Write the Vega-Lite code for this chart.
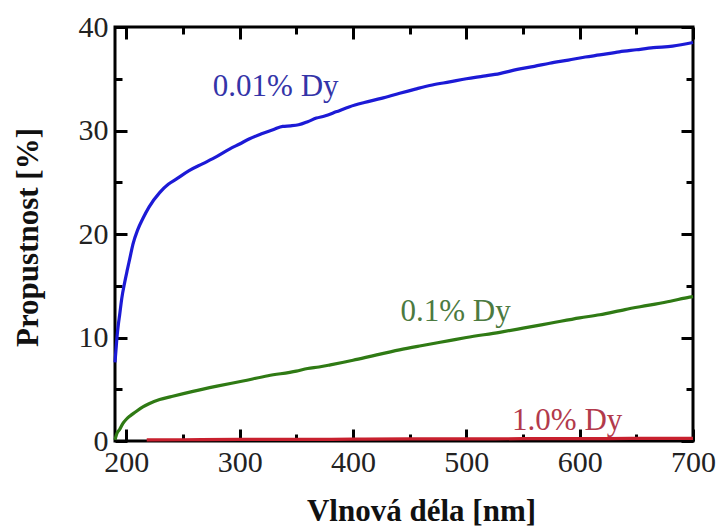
{
  "$schema": "https://vega.github.io/schema/vega-lite/v6.json",
  "autosize": {"type": "none"},
  "padding": {"left": 115, "top": 27, "right": 29, "bottom": 88},
  "width": 578,
  "height": 414,
  "background": "white",
  "config": {
    "view": {"stroke": "black", "strokeWidth": 3},
    "axis": {
      "domain": false,
      "ticks": true,
      "tickColor": "black",
      "tickWidth": 3,
      "grid": false,
      "labelFlush": false,
      "labelOverlap": false,
      "labelFont": "Liberation Serif",
      "labelFontSize": 30,
      "labelColor": "#222",
      "titleFont": "Liberation Serif",
      "titleFontSize": 31,
      "titleFontWeight": "bold",
      "titleColor": "#111"
    }
  },
  "datasets": {
    "curves": [
      {"wl": 190, "T": 7.6, "series": "0.01% Dy"},
      {"wl": 191, "T": 9.0, "series": "0.01% Dy"},
      {"wl": 192, "T": 10.3, "series": "0.01% Dy"},
      {"wl": 193, "T": 11.3, "series": "0.01% Dy"},
      {"wl": 194, "T": 12.1, "series": "0.01% Dy"},
      {"wl": 196, "T": 13.8, "series": "0.01% Dy"},
      {"wl": 198.5, "T": 15.3, "series": "0.01% Dy"},
      {"wl": 201, "T": 16.6, "series": "0.01% Dy"},
      {"wl": 203, "T": 17.6, "series": "0.01% Dy"},
      {"wl": 205.8, "T": 19.0, "series": "0.01% Dy"},
      {"wl": 210, "T": 20.4, "series": "0.01% Dy"},
      {"wl": 214.6, "T": 21.5, "series": "0.01% Dy"},
      {"wl": 220, "T": 22.6, "series": "0.01% Dy"},
      {"wl": 229.4, "T": 24.0, "series": "0.01% Dy"},
      {"wl": 237, "T": 24.8, "series": "0.01% Dy"},
      {"wl": 244, "T": 25.3, "series": "0.01% Dy"},
      {"wl": 255, "T": 26.1, "series": "0.01% Dy"},
      {"wl": 267.6, "T": 26.8, "series": "0.01% Dy"},
      {"wl": 280, "T": 27.5, "series": "0.01% Dy"},
      {"wl": 291, "T": 28.2, "series": "0.01% Dy"},
      {"wl": 300, "T": 28.7, "series": "0.01% Dy"},
      {"wl": 308.8, "T": 29.2, "series": "0.01% Dy"},
      {"wl": 320, "T": 29.7, "series": "0.01% Dy"},
      {"wl": 330, "T": 30.1, "series": "0.01% Dy"},
      {"wl": 338, "T": 30.4, "series": "0.01% Dy"},
      {"wl": 345, "T": 30.45, "series": "0.01% Dy"},
      {"wl": 352, "T": 30.55, "series": "0.01% Dy"},
      {"wl": 360, "T": 30.85, "series": "0.01% Dy"},
      {"wl": 367.7, "T": 31.2, "series": "0.01% Dy"},
      {"wl": 375, "T": 31.4, "series": "0.01% Dy"},
      {"wl": 385, "T": 31.8, "series": "0.01% Dy"},
      {"wl": 397.1, "T": 32.3, "series": "0.01% Dy"},
      {"wl": 410, "T": 32.7, "series": "0.01% Dy"},
      {"wl": 425, "T": 33.1, "series": "0.01% Dy"},
      {"wl": 441.2, "T": 33.6, "series": "0.01% Dy"},
      {"wl": 455, "T": 34.0, "series": "0.01% Dy"},
      {"wl": 470, "T": 34.4, "series": "0.01% Dy"},
      {"wl": 485.3, "T": 34.7, "series": "0.01% Dy"},
      {"wl": 500, "T": 35.0, "series": "0.01% Dy"},
      {"wl": 515, "T": 35.25, "series": "0.01% Dy"},
      {"wl": 529.4, "T": 35.5, "series": "0.01% Dy"},
      {"wl": 545, "T": 35.9, "series": "0.01% Dy"},
      {"wl": 560, "T": 36.2, "series": "0.01% Dy"},
      {"wl": 573.5, "T": 36.5, "series": "0.01% Dy"},
      {"wl": 590, "T": 36.8, "series": "0.01% Dy"},
      {"wl": 605, "T": 37.1, "series": "0.01% Dy"},
      {"wl": 617.7, "T": 37.3, "series": "0.01% Dy"},
      {"wl": 635, "T": 37.6, "series": "0.01% Dy"},
      {"wl": 650, "T": 37.8, "series": "0.01% Dy"},
      {"wl": 665, "T": 38.0, "series": "0.01% Dy"},
      {"wl": 682, "T": 38.15, "series": "0.01% Dy"},
      {"wl": 700, "T": 38.5, "series": "0.01% Dy"},

      {"wl": 190, "T": 0.1, "series": "0.1% Dy"},
      {"wl": 191, "T": 0.5, "series": "0.1% Dy"},
      {"wl": 192, "T": 0.8, "series": "0.1% Dy"},
      {"wl": 194, "T": 1.1, "series": "0.1% Dy"},
      {"wl": 197, "T": 1.7, "series": "0.1% Dy"},
      {"wl": 200, "T": 2.1, "series": "0.1% Dy"},
      {"wl": 203, "T": 2.4, "series": "0.1% Dy"},
      {"wl": 208, "T": 2.8, "series": "0.1% Dy"},
      {"wl": 214.6, "T": 3.3, "series": "0.1% Dy"},
      {"wl": 220, "T": 3.6, "series": "0.1% Dy"},
      {"wl": 229.4, "T": 4.0, "series": "0.1% Dy"},
      {"wl": 240, "T": 4.3, "series": "0.1% Dy"},
      {"wl": 258.8, "T": 4.8, "series": "0.1% Dy"},
      {"wl": 280, "T": 5.3, "series": "0.1% Dy"},
      {"wl": 302.9, "T": 5.8, "series": "0.1% Dy"},
      {"wl": 325, "T": 6.3, "series": "0.1% Dy"},
      {"wl": 350, "T": 6.75, "series": "0.1% Dy"},
      {"wl": 360, "T": 7.0, "series": "0.1% Dy"},
      {"wl": 370, "T": 7.15, "series": "0.1% Dy"},
      {"wl": 380, "T": 7.35, "series": "0.1% Dy"},
      {"wl": 400, "T": 7.8, "series": "0.1% Dy"},
      {"wl": 420, "T": 8.3, "series": "0.1% Dy"},
      {"wl": 441, "T": 8.8, "series": "0.1% Dy"},
      {"wl": 460, "T": 9.2, "series": "0.1% Dy"},
      {"wl": 485, "T": 9.7, "series": "0.1% Dy"},
      {"wl": 500, "T": 10.0, "series": "0.1% Dy"},
      {"wl": 529.4, "T": 10.5, "series": "0.1% Dy"},
      {"wl": 550, "T": 10.9, "series": "0.1% Dy"},
      {"wl": 575, "T": 11.4, "series": "0.1% Dy"},
      {"wl": 600, "T": 11.9, "series": "0.1% Dy"},
      {"wl": 617.7, "T": 12.2, "series": "0.1% Dy"},
      {"wl": 640, "T": 12.7, "series": "0.1% Dy"},
      {"wl": 660, "T": 13.1, "series": "0.1% Dy"},
      {"wl": 680, "T": 13.5, "series": "0.1% Dy"},
      {"wl": 697, "T": 13.9, "series": "0.1% Dy"},
      {"wl": 700, "T": 13.95, "series": "0.1% Dy"},

      {"wl": 218, "T": 0.1, "series": "1.0% Dy"},
      {"wl": 250, "T": 0.12, "series": "1.0% Dy"},
      {"wl": 300, "T": 0.15, "series": "1.0% Dy"},
      {"wl": 350, "T": 0.15, "series": "1.0% Dy"},
      {"wl": 400, "T": 0.18, "series": "1.0% Dy"},
      {"wl": 450, "T": 0.2, "series": "1.0% Dy"},
      {"wl": 500, "T": 0.2, "series": "1.0% Dy"},
      {"wl": 550, "T": 0.22, "series": "1.0% Dy"},
      {"wl": 600, "T": 0.22, "series": "1.0% Dy"},
      {"wl": 650, "T": 0.25, "series": "1.0% Dy"},
      {"wl": 700, "T": 0.25, "series": "1.0% Dy"}
    ]
  },
  "resolve": {"axis": {"x": "independent", "y": "independent"}},
  "layer": [
    {
      "data": {"name": "curves"},
      "mark": {"type": "line", "opacity": 0},
      "encoding": {
        "detail": {"field": "series"},
        "x": {"field": "wl", "type": "quantitative",
          "scale": {"domain": [190, 700], "nice": false, "zero": false},
          "axis": {"orient": "top", "title": null, "labels": false, "values": [200, 300, 400, 500, 600, 700], "tickSize": 12, "offset": -12}},
        "y": {"field": "T", "type": "quantitative",
          "scale": {"domain": [0, 40], "nice": false},
          "axis": {"orient": "right", "title": null, "labels": false, "values": [0, 10, 20, 30, 40], "tickSize": 12, "offset": -12}}
      }
    },
    {
      "data": {"name": "curves"},
      "mark": {"type": "line", "opacity": 0},
      "encoding": {
        "detail": {"field": "series"},
        "x": {"field": "wl", "type": "quantitative",
          "axis": {"orient": "bottom", "title": null, "labels": false, "values": [250, 350, 450, 550, 650], "tickSize": 7, "offset": -7}},
        "y": {"field": "T", "type": "quantitative",
          "axis": {"orient": "left", "title": null, "labels": false, "values": [5, 15, 25, 35], "tickSize": 7, "offset": -7}}
      }
    },
    {
      "data": {"name": "curves"},
      "mark": {"type": "line", "opacity": 0},
      "encoding": {
        "detail": {"field": "series"},
        "x": {"field": "wl", "type": "quantitative",
          "axis": {"orient": "top", "title": null, "labels": false, "values": [250, 350, 450, 550, 650], "tickSize": 7, "offset": -7}},
        "y": {"field": "T", "type": "quantitative",
          "axis": {"orient": "right", "title": null, "labels": false, "values": [5, 15, 25, 35], "tickSize": 7, "offset": -7}}
      }
    },
    {
      "data": {"name": "curves"},
      "mark": {"type": "line", "strokeWidth": 3.2, "interpolate": "monotone"},
      "encoding": {
        "x": {
          "field": "wl", "type": "quantitative",
          "axis": {
            "orient": "bottom",
            "title": "Vlnová déla [nm]",
            "values": [200, 300, 400, 500, 600, 700],
            "tickSize": 12,
            "offset": -12,
            "labelPadding": 6,
            "titleX": 306,
            "titleY": 91,
            "titleAnchor": null,
            "titleAlign": "center",
            "titleBaseline": "alphabetic"
          }
        },
        "y": {
          "field": "T", "type": "quantitative",
          "axis": {
            "orient": "left",
            "title": "Propustnost [%]",
            "values": [0, 10, 20, 30, 40],
            "tickSize": 12,
            "offset": -12,
            "labelPadding": 7,
            "titleX": -90,
            "titleY": 210,
            "titleAngle": -90,
            "titleAlign": "center",
            "titleBaseline": "alphabetic"
          }
        },
        "color": {
          "field": "series", "type": "nominal",
          "scale": {"domain": ["0.01% Dy", "0.1% Dy", "1.0% Dy"], "range": ["#1c1ad6", "#2f7a14", "#c8202e"]},
          "legend": null
        },
        "order": {"field": "wl", "type": "quantitative"}
      }
    },
    {
      "data": {"values": [{"label": "0.01% Dy"}]},
      "mark": {"type": "text", "font": "Liberation Serif", "fontSize": 31, "color": "#3434a8", "align": "center", "baseline": "alphabetic"},
      "encoding": {
        "text": {"field": "label"},
        "x": {"datum": 331.8, "type": "quantitative", "axis": null},
        "y": {"datum": 33.3, "type": "quantitative", "axis": null}
      }
    },
    {
      "data": {"values": [{"label": "0.1% Dy"}]},
      "mark": {"type": "text", "font": "Liberation Serif", "fontSize": 31, "color": "#4c7a40", "align": "center", "baseline": "alphabetic"},
      "encoding": {
        "text": {"field": "label"},
        "x": {"datum": 490.5, "type": "quantitative", "axis": null},
        "y": {"datum": 11.6, "type": "quantitative", "axis": null}
      }
    },
    {
      "data": {"values": [{"label": "1.0% Dy"}]},
      "mark": {"type": "text", "font": "Liberation Serif", "fontSize": 31, "color": "#b23a4c", "align": "center", "baseline": "alphabetic"},
      "encoding": {
        "text": {"field": "label"},
        "x": {"datum": 589, "type": "quantitative", "axis": null},
        "y": {"datum": 1.07, "type": "quantitative", "axis": null}
      }
    }
  ]
}
